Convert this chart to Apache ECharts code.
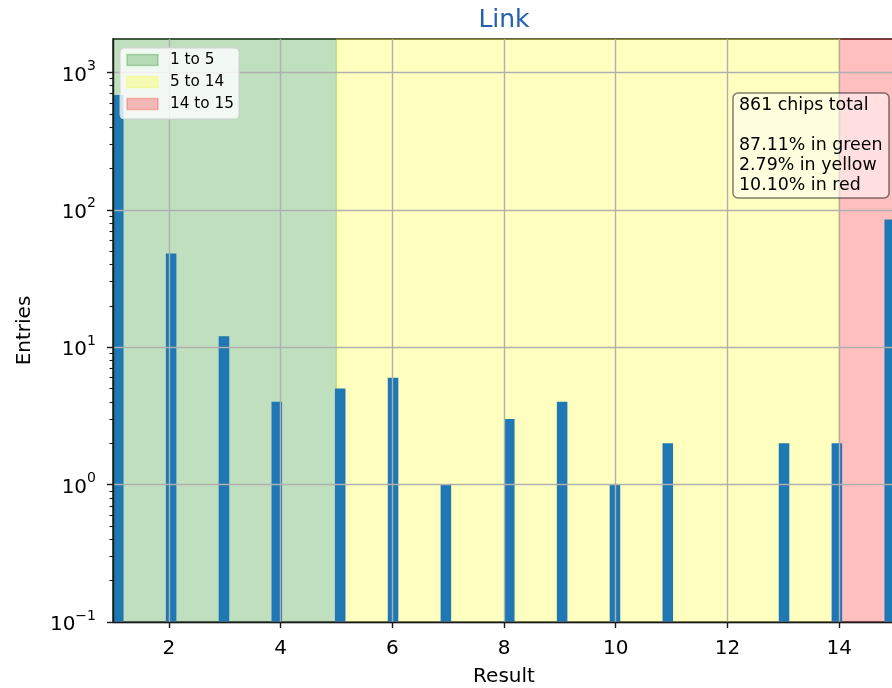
<!DOCTYPE html>
<html><head><meta charset="utf-8">
<script src="https://cdn.jsdelivr.net/npm/echarts@6/dist/echarts.min.js"></script>
<style>html,body{margin:0;padding:0;background:#fff}#c{width:892px;height:688px}</style>
</head><body><div id="c"></div>
<script>
// ---- data ----
const binStarts = [1.000, 1.946, 2.892, 3.838, 4.973, 5.919, 6.865, 8.000, 8.946, 9.892, 10.838, 12.919, 13.865, 14.811];
const entries   = [686, 48, 12, 4, 5, 6, 1, 3, 4, 1, 2, 2, 2, 85];
const binWidth = 0.189;
const xTicks = [2, 4, 6, 8, 10, 12, 14];
const yTicks = [0.1, 1, 10, 100, 1000];
const yMinorTicks = [];
for (let d = 0.1; d < 1000; d *= 10) for (let m = 2; m <= 9; m++) yMinorTicks.push(+(m * d).toPrecision(3));
const zoneLabels = ['1 to 5', '5 to 14', '14 to 15'];
const zoneFrom = [1, 5, 14];
const zoneTo = [5, 14, 15];
const zoneColors = ['rgba(0,128,0,0.25)', 'rgba(255,255,0,0.25)', 'rgba(255,0,0,0.25)'];
const totalChips = 861;
const zoneShares = ['87.11', '2.79', '10.10'];
const zoneNames = ['green', 'yellow', 'red'];
const xMin = 1, xMax = 15, yMin = 0.1, yMax = 1750;

const FONT = 'DejaVu Sans';
const chart = echarts.init(document.getElementById('c'), null, {renderer: 'canvas'});

function yLabel(v) {
  const e = Math.round(Math.log10(v));
  const s = String(e).replace('-', '\u2212');
  return '{b|10}{s|' + s + '}';
}

const zoneSeries = zoneLabels.map((name, i) => ({
  type: 'line', name: name, data: [], silent: true, z: 1,
  markArea: {
    silent: true,
    itemStyle: {color: zoneColors[i], borderColor: zoneColors[i], borderWidth: 1.2},
    data: [[{xAxis: zoneFrom[i]}, {xAxis: zoneTo[i]}]]
  }
}));

const Z = 100;
const legendItems = [];
zoneLabels.forEach((name, i) => {
  const cy = 60 + i * 22;
  legendItems.push({type: 'rect', z: Z + 1, shape: {x: 127, y: cy - 5.5, width: 31, height: 11},
    style: {fill: zoneColors[i], stroke: zoneColors[i], lineWidth: 1.5}});
  legendItems.push({type: 'text', z: Z + 1, x: 170, y: cy,
    style: {text: name, font: '15.3px "DejaVu Sans"', fill: '#000', textVerticalAlign: 'middle'}});
});

const summaryLines = [totalChips + ' chips total', ''].concat(zoneShares.map((s, i) => s + '% in ' + zoneNames[i]));

chart.setOption({
  animation: false,
  backgroundColor: '#fff',
  title: {
    text: 'Link', left: 499, top: 3, textAlign: 'center',
    textStyle: {fontFamily: FONT, fontSize: 25, fontWeight: 'normal', color: '#2460b0'}
  },
  grid: {left: 113, top: 39, right: -3, bottom: 66, show: true, borderColor: '#1a1a1a', borderWidth: 1.4,
         backgroundColor: 'transparent', outerBoundsMode: 'none', containLabel: false},
  xAxis: {
    type: 'value', min: xMin, max: xMax, z: 3,
    name: 'Result', nameLocation: 'middle', nameGap: 45,
    nameTextStyle: {fontFamily: FONT, fontSize: 20, color: '#000'},
    axisLine: {show: true, onZero: false, lineStyle: {color: '#1a1a1a', width: 1.4}},
    axisTick: {show: true, length: 6, customValues: xTicks, lineStyle: {color: '#1a1a1a', width: 1.4}},
    axisLabel: {customValues: xTicks, margin: 17, fontFamily: FONT, fontSize: 20, color: '#000'},
    splitLine: {show: true, lineStyle: {color: '#b0b0b0', width: 1.4}}
  },
  yAxis: [{
    type: 'log', logBase: 10, min: yMin, max: yMax, z: 3,
    name: 'Entries', nameLocation: 'middle', nameGap: 78, nameRotate: 90,
    nameTextStyle: {fontFamily: FONT, fontSize: 20, color: '#000'},
    axisLine: {show: true, lineStyle: {color: '#1a1a1a', width: 1.4}},
    axisTick: {show: true, length: 6, customValues: yTicks, lineStyle: {color: '#1a1a1a', width: 1.4}},
    axisLabel: {customValues: yTicks, margin: 17, formatter: yLabel,
      rich: {
        b: {fontFamily: FONT, fontSize: 20, color: '#000', lineHeight: 26, verticalAlign: 'bottom'},
        s: {fontFamily: FONT, fontSize: 14, color: '#000', lineHeight: 14, verticalAlign: 'top'}
      }},
    splitLine: {show: true, lineStyle: {color: '#b0b0b0', width: 1.4}}
  }, {
    type: 'log', logBase: 10, min: yMin, max: yMax, position: 'left', z: 3,
    axisLine: {show: false},
    axisTick: {show: true, length: 3.5, customValues: yMinorTicks, lineStyle: {color: '#1a1a1a', width: 1.1}},
    axisLabel: {show: false},
    splitLine: {show: false}
  }],
  series: zoneSeries.concat([{
    type: 'custom', name: 'Entries', z: 2,
    data: binStarts.map((x, i) => [x, entries[i]]),
    encode: {x: 0, y: 1},
    renderItem: function (params, api) {
      const x0 = api.value(0), v = api.value(1);
      const a = api.coord([x0, v]);
      const b = api.coord([x0 + binWidth, yMin]);
      return {type: 'rect', shape: {x: a[0], y: a[1], width: b[0] - a[0], height: b[1] - a[1]},
              style: {fill: '#1f77b4'}};
    }
  }]),
  graphic: [
    {type: 'rect', z: Z, shape: {x: 120, y: 48, width: 119, height: 71, r: 4},
     style: {fill: 'rgba(255,255,255,0.8)', stroke: '#d0d0d0', lineWidth: 1}}
  ].concat(legendItems).concat([
    {type: 'rect', z: Z, shape: {x: 733, y: 93, width: 156, height: 105, r: 5},
     style: {fill: 'rgba(255,255,255,0.5)', stroke: 'rgba(0,0,0,0.5)', lineWidth: 1.5}},
    {type: 'text', z: Z + 1, x: 739, y: 95,
     style: {text: summaryLines.join('\n'), font: '17.4px "DejaVu Sans"', fill: '#000',
             lineHeight: 20, textVerticalAlign: 'top'}}
  ])
});
</script></body></html>
